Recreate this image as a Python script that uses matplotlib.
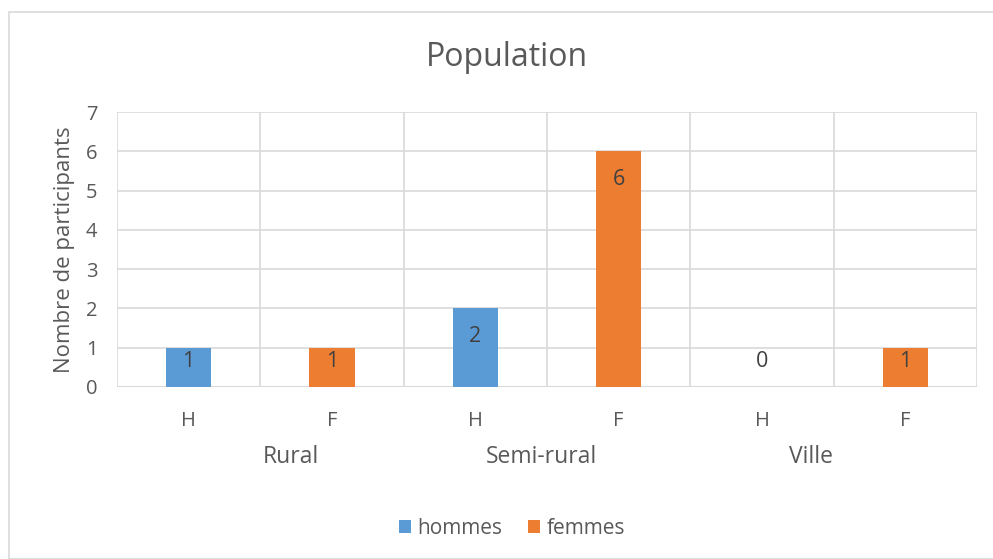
import numpy as np
import matplotlib.pyplot as plt
from matplotlib.patches import Rectangle

# donnees
zones = ["Rural", "Semi-rural", "Ville"]
sexes = ["H", "F"]
hommes = [1, 2, 0]
femmes = [1, 6, 1]
series_noms = ["hommes", "femmes"]

bleu = "#5B9BD5"
orange = "#ED7D31"
gris_txt = "#595959"
gris_grille = "#D9D9D9"

plt.rcParams['font.family'] = ['Open Sans', 'DejaVu Sans']

fig = plt.figure(figsize=(9.93, 5.59), dpi=100)
ax = fig.add_axes([117/993, 1-387/559, (977-117)/993, (387-112)/559])

# bordure du graphique
fig.patches.append(Rectangle((9/993, 0), 1, 1-12/559, transform=fig.transFigure,
                             fill=False, edgecolor=gris_grille, lw=1.2))

n = len(zones)
x_h = np.arange(n) * 2
x_f = x_h + 1
w = 0.315
ax.bar(x_h, hommes, w, color=bleu, label=series_noms[0], zorder=3)
ax.bar(x_f, femmes, w, color=orange, label=series_noms[1], zorder=3)

# etiquettes de donnees
for xs, vals in [(x_h, hommes), (x_f, femmes)]:
    for x, v in zip(xs, vals):
        y = max(v - 0.71, 0.64)
        ax.text(x, y, str(v), ha='center', va='center', fontsize=15.5, color="#404040", zorder=4)

ax.set_xlim(-0.5, 2*n - 0.5)
ax.set_ylim(0, 7)
ax.set_yticks(range(8))
ax.set_xticks(np.arange(2*n))
ax.set_xticklabels(sexes * n)
ax.tick_params(axis='both', length=0, labelsize=14.5, labelcolor=gris_txt)
ax.tick_params(axis='x', pad=17)
ax.tick_params(axis='y', pad=14)

# grille
for b in np.arange(-0.5, 2*n, 1.0):
    ax.axvline(b, color=gris_grille, lw=1.2, zorder=1)
ax.grid(axis='y', color=gris_grille, lw=1.2, zorder=1)
ax.set_axisbelow(True)
for s in ax.spines.values():
    s.set_visible(False)
ax.axhline(0, color=gris_grille, lw=1.5, zorder=2)

# categories de niveau 2
pos_zones = [0.71, 2.46, 4.34]
for p, z in zip(pos_zones, zones):
    ax.text(p, -70/39.3, z, ha='center', va='center', fontsize=16.5, color=gris_txt,
            transform=ax.transData, clip_on=False)

ax.set_ylabel("Nombre de participants", fontsize=16, color=gris_txt, labelpad=8)
fig.text(507/993, 1-57/559, "Population", ha='center', va='center', fontsize=23, color=gris_txt)

leg = fig.legend(loc='center', bbox_to_anchor=(512/993, 1-528/559), ncol=2, frameon=False,
                 fontsize=15, handlelength=0.6, handleheight=0.6, handletextpad=0.3,
                 columnspacing=1.2, labelcolor=gris_txt)

fig.savefig("out.png", dpi=100)
